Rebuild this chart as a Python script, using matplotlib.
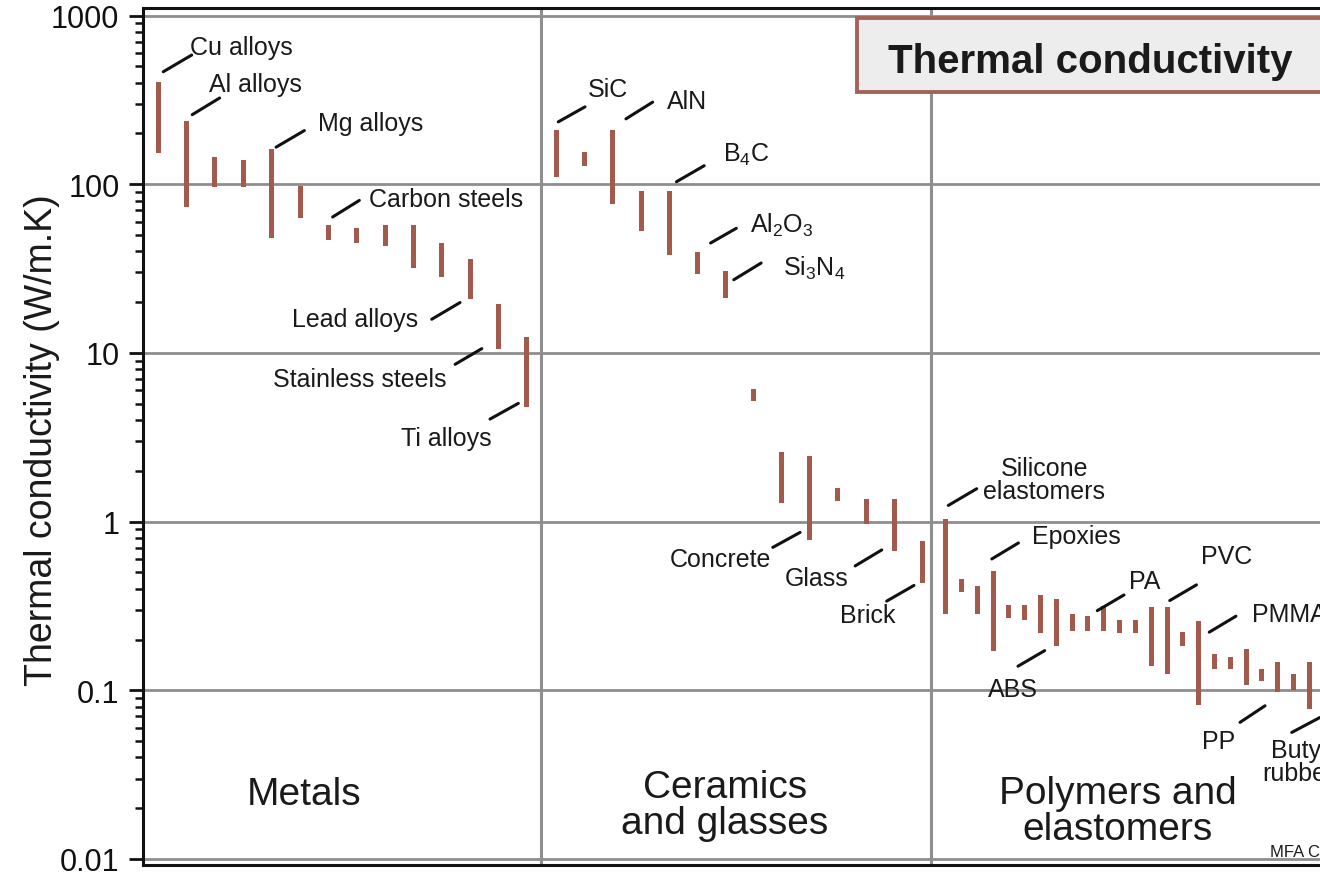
import matplotlib
matplotlib.use("Agg")
import matplotlib.pyplot as plt
import matplotlib.transforms as mtransforms
from matplotlib.patches import Rectangle
from matplotlib.ticker import FixedLocator, FixedFormatter, LogLocator, NullFormatter

plt.rcParams['font.family'] = ['Liberation Sans', 'DejaVu Sans']
plt.rcParams['mathtext.fontset'] = 'custom'
plt.rcParams['mathtext.rm'] = 'Liberation Sans'

# ---------------- data (W/m.K) ----------------
metals_lo = [153, 73, 96, 96, 48, 63, 47, 45, 43, 32, 28, 21, 10.6, 4.8]
metals_hi = [405, 238, 144, 140, 162, 98, 57, 55, 57, 57, 45, 36, 19.5, 12.5]

ceramics_lo = [111, 129, 76, 52.6, 38, 29.4, 21.1, 5.2, 1.29, 0.78, 1.33, 0.97, 0.67, 0.43]
ceramics_hi = [210, 156, 210, 91.5, 91.5, 39.8, 30.7, 6.1, 2.6, 2.46, 1.58, 1.36, 1.36, 0.77]

polymers_lo = [0.284, 0.381, 0.284, 0.172, 0.268, 0.262, 0.219, 0.184, 0.226, 0.226,
               0.226, 0.219, 0.218, 0.140, 0.125, 0.184, 0.082, 0.133, 0.133, 0.107,
               0.114, 0.098, 0.100, 0.077]
polymers_hi = [1.03, 0.457, 0.417, 0.512, 0.320, 0.320, 0.369, 0.348, 0.284, 0.277,
               0.317, 0.261, 0.261, 0.311, 0.311, 0.223, 0.259, 0.164, 0.157, 0.176,
               0.134, 0.147, 0.125, 0.147]

categories = ["Metals", "Ceramics\nand glasses", "Polymers and\nelastomers"]
y_ticks = [0.01, 0.1, 1, 10, 100, 1000]
y_ticklabels = ["0.01", "0.1", "1", "10", "100", "1000"]

# labels: (text, category index, bar index, anchor end)
labels = [
    ("Cu alloys", 0, 0, "hi"), ("Al alloys", 0, 1, "hi"), ("Mg alloys", 0, 4, "hi"),
    ("Carbon steels", 0, 6, "hi"), ("Lead alloys", 0, 11, "lo"),
    ("Stainless steels", 0, 12, "lo"), ("Ti alloys", 0, 13, "lo"),
    ("SiC", 1, 0, "hi"), ("AlN", 1, 2, "hi"), (r"B$_\mathregular{4}$C", 1, 4, "hi"),
    (r"Al$_\mathregular{2}$O$_\mathregular{3}$", 1, 5, "hi"),
    (r"Si$_\mathregular{3}$N$_\mathregular{4}$", 1, 6, "hi"),
    ("Concrete", 1, 9, "lo"), ("Glass", 1, 12, "lo"), ("Brick", 1, 13, "lo"),
    ("Silicone\nelastomers", 2, 0, "hi"), ("Epoxies", 2, 3, "hi"), ("ABS", 2, 7, "lo"),
    ("PA", 2, 9, "hi"), ("PVC", 2, 14, "hi"), ("PMMA", 2, 16, "hi"),
    ("PP", 2, 21, "lo"), ("Butyl\nrubber", 2, 23, "lo"),
]

# ---------------- layout (pixels) ----------------
W, H = 1320, 878
SPINE_X = 143
# per-category: start (px from spine), bar spacing, first bar offset
layout = [(0, 28.34, 15.3), (398, 28.12, 15.7), (788, 15.81, 14.7)]
BAR_W = 5.0
BAR_COLOR = '#a15a4c'
GRID_COLOR = '#8e8e8e'

# label geometry: leader start (dx1,dy1), leader end (dx2,dy2), text offset (tx,ty), ha
label_geom = {
    "Cu alloys": ((5, 10), (33.4, 26.7), (31.7, 34.4), 'left'),
    "Al alloys": ((5.6, 6), (33, 22.7), (22.3, 36.7), 'left'),
    "Mg alloys": ((4.4, 1.7), (32.7, 18.3), (46, 26), 'left'),
    "Carbon steels": ((4.3, 8.4), (31, 25), (41, 26.7), 'left'),
    "Lead alloys": ((-38.3, -20.7), (-10, -4), (-51.7, -20.7), 'right'),
    "Stainless steels": ((-43.3, -15.7), (-16.6, 0), (-52.3, -30.7), 'right'),
    "Ti alloys": ((-36.7, -12.4), (-8.4, 3.3), (-35, -31), 'right'),
    "SiC": ((1.6, 8), (28.3, 23), (31.6, 40.7), 'left'),
    "AlN": ((13, 11), (39.7, 27.7), (54, 29.3), 'left'),
    r"B$_\mathregular{4}$C": ((7.3, 9), (35, 25), (54.3, 36.7), 'left'),
    r"Al$_\mathregular{2}$O$_\mathregular{3}$": ((13.3, 8.7), (39, 23.4), (53, 27.7), 'left'),
    r"Si$_\mathregular{3}$N$_\mathregular{4}$": ((8.4, -9), (35.7, 7.7), (57.4, 3.4), 'left'),
    "Concrete": ((-37, -7.6), (-9.7, 7.4), (-38.7, -19.3), 'right'),
    "Glass": ((-39, -15), (-12.4, 1), (-45.7, -26.6), 'right'),
    "Brick": ((-35.6, -17.7), (-8.3, -2), (-26.3, -32), 'right'),
    "Silicone\nelastomers": ((2.6, 14), (31, 30.7), (37.6, 39.9), 'left'),
    "Epoxies": ((-1.3, 11.7), (25.3, 27.7), (38.7, 34.4), 'left'),
    "ABS": ((-38.4, -20.6), (-11.7, -5), (-43.7, -43.3), 'center'),
    "PA": ((9.3, 5), (36, 20.7), (40.6, 35), 'left'),
    "PVC": ((2.7, 6.6), (29.4, 22.3), (34.4, 51.6), 'left'),
    "PMMA": ((10.6, -11.6), (37.3, 4.4), (53, 6.7), 'left'),
    "PP": ((-37.7, -30.6), (-12.7, -14), (-58.7, -49.3), 'center'),
    "Butyl\nrubber": ((-17.6, -23), (10.7, -8), (-10.6, -52), 'center'),
}

fig = plt.figure(figsize=(W / 100, H / 100), dpi=100)
ax_top, ax_bot = 9, 866
ax = fig.add_axes([SPINE_X / W, (H - ax_bot) / H, (W - SPINE_X) / W, (ax_bot - ax_top) / H])
ax.set_yscale('log')
ax.set_xlim(0, W - SPINE_X)
ax.set_ylim(10 ** -2.0356, 10 ** 3.0445)

# grid & dividers
for t in y_ticks:
    ax.axhline(t, color=GRID_COLOR, lw=2.0, zorder=1)
for start, _, _ in layout[1:]:
    ax.axvline(start, color=GRID_COLOR, lw=2.2, zorder=1)

series = [(metals_lo, metals_hi), (ceramics_lo, ceramics_hi), (polymers_lo, polymers_hi)]
xpos = []
for (lo, hi), (start, sp, off) in zip(series, layout):
    xs = [start + off + i * sp for i in range(len(lo))]
    xpos.append(xs)
    ax.bar(xs, [h - l for l, h in zip(lo, hi)], bottom=lo, width=BAR_W,
           color=BAR_COLOR, linewidth=0, zorder=3)

# labels with leader lines
for text, ci, bi, end in labels:
    x = xpos[ci][bi]
    y = series[ci][1][bi] if end == "hi" else series[ci][0][bi]
    (dx1, dy1), (dx2, dy2), (tx, ty), ha = label_geom[text]
    t1 = ax.transData + mtransforms.Affine2D().translate(dx1, dy1)
    t2 = ax.transData + mtransforms.Affine2D().translate(dx2, dy2)
    ax.annotate("", xy=(x, y), xycoords=t2, xytext=(x, y), textcoords=t1,
                arrowprops=dict(arrowstyle='-', lw=2.2, color='#111111',
                                shrinkA=0, shrinkB=0), annotation_clip=False, zorder=4)
    ax.annotate(text, xy=(x, y), xytext=(tx, ty), textcoords='offset pixels',
                ha=ha, va='center', fontsize=18, color='#1a1a1a',
                linespacing=0.92, multialignment='center', zorder=5)

# category titles
cat_pos = [(161, 0.0243), (582, 0.0208), (975, 0.0193)]
for name, (cx, cy) in zip(categories, cat_pos):
    ax.text(cx, cy, name, ha='center', va='center', fontsize=28, color='#1a1a1a',
            linespacing=1.0, zorder=5)

# axes styling
for s in ['left', 'top', 'bottom']:
    ax.spines[s].set_linewidth(2.2)
    ax.spines[s].set_color('#111111')
ax.spines['right'].set_visible(False)
ax.set_xticks([])
ax.yaxis.set_major_locator(FixedLocator(y_ticks))
ax.yaxis.set_major_formatter(FixedFormatter(y_ticklabels))
ax.yaxis.set_minor_locator(LogLocator(base=10, subs=range(2, 10), numticks=20))
ax.yaxis.set_minor_formatter(NullFormatter())
ax.tick_params(axis='y', which='major', direction='out', length=10, width=2.0,
               labelsize=22, pad=7, colors='#111111')
ax.tick_params(axis='y', which='minor', direction='out', length=6, width=1.8, colors='#111111')
ax.set_ylabel("Thermal conductivity (W/m.K)", fontsize=27, color='#1a1a1a', va='center')
ax.yaxis.set_label_coords(-(SPINE_X - 42) / (W - SPINE_X), 0.497)

# title box
bx0, bx1, by0, by1 = 857, 1345, 19, 93
fig.add_artist(Rectangle((bx0 / W, (H - by1) / H), (bx1 - bx0) / W, (by1 - by0) / H,
                         transform=fig.transFigure, facecolor='#ededed',
                         edgecolor='#a2645a', lw=2.8, zorder=6))
fig.text(888 / W, (H - 61.7) / H, "Thermal conductivity", ha='left', va='center',
         fontsize=29, fontweight='bold', color='#1a1a1a', zorder=7)
fig.text(1270 / W, (H - 852.7) / H, "MFA C4", ha='left', va='center', fontsize=12,
         color='#1a1a1a', zorder=7)

fig.savefig("out.png", dpi=100)
